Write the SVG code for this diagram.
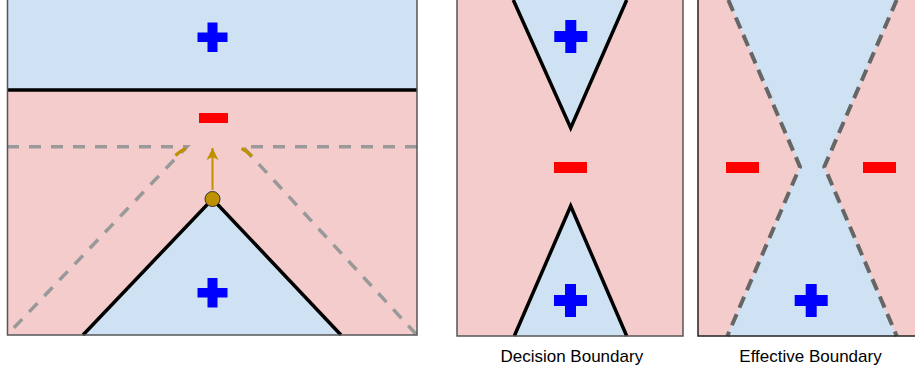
<svg xmlns="http://www.w3.org/2000/svg" width="915" height="372" viewBox="0 0 915 372">
<defs>
<style>
.blue{fill:#cfe2f3}
.pink{fill:#f4cccc}
.plus{fill:#0000ff}
.minus{fill:#ff0000}
.bnd{fill:none;stroke:#000;stroke-width:3.5;stroke-linejoin:miter}
.dash1{fill:none;stroke:#999;stroke-width:3.5;stroke-dasharray:12 10}
.dash3{fill:none;stroke:#666;stroke-width:4;stroke-dasharray:12 7}
.frame{fill:none;stroke:#555;stroke-width:1.5}
.lbl{font-family:"Liberation Sans",Arial,sans-serif;font-size:17px;fill:#000;text-anchor:middle}
</style>
<marker id="ah" viewBox="0 0 12 16" refX="12" refY="8" markerWidth="12" markerHeight="16" markerUnits="userSpaceOnUse" orient="auto">
<path d="M0,2 L12,8 L0,14 L3,8 Z" fill="#bf9000"/>
</marker>
</defs>

<g id="panel1">
<rect class="blue" x="7" y="0" width="410" height="90"/>
<rect class="pink" x="7" y="90" width="410" height="245"/>
<polygon class="blue" points="212.5,199 83,335 341,335"/>
<line x1="7" y1="90" x2="417" y2="90" stroke="#000" stroke-width="3.5"/>
<polyline class="bnd" points="83,335 212.5,199 341,335"/>
<polyline class="dash1" points="7,146.7 186.7,146.7 8,334"/>
<polyline class="dash1" points="417,146.7 242.7,146.7 416,334"/>
<path d="M175.5,155.5 Q180,151 186,148.5" fill="none" stroke="#bf9000" stroke-width="3.5"/>
<path d="M241.5,148.5 Q247,151 251.5,156" fill="none" stroke="#bf9000" stroke-width="3.5"/>
<line x1="212.5" y1="190" x2="212.5" y2="148" stroke="#bf9000" stroke-width="2" marker-end="url(#ah)"/>
<circle cx="212.5" cy="199" r="7.5" fill="#bf9000" stroke="#333" stroke-width="1"/>
<path class="plus" d="M207.5,22.5h10v10h10v9.5h-10v10h-10v-10h-10v-9.5h10z"/>
<rect class="minus" x="199" y="113" width="29" height="10"/>
<path class="plus" d="M207.5,278h10v10h10v9.5h-10v10h-10v-10h-10v-9.5h10z"/>
<polyline class="frame" points="7.5,0 7.5,335 417,335 417,0"/>
</g>

<g id="panel2">
<rect class="pink" x="457" y="0" width="226" height="336"/>
<polygon class="blue" points="513.3,0 626.7,0 570.7,128"/>
<polygon class="blue" points="514.3,336 626.7,336 570.7,206"/>
<polyline class="bnd" points="513.3,0 570.7,128 626.7,0"/>
<polyline class="bnd" points="514.3,336 570.7,206 626.7,336"/>
<path class="plus" d="M565.3,20h11v11h11v11h-11v11h-11v-11h-11v-11h11z"/>
<rect class="minus" x="554" y="162" width="33" height="11"/>
<path class="plus" d="M565,284h11v11h11v11h-11v11h-11v-11h-11v-11h11z"/>
<polyline class="frame" points="457,0 457,336 683,336 683,0"/>
<text class="lbl" x="571.8" y="362">Decision Boundary</text>
</g>

<g id="panel3">
<rect class="pink" x="698" y="0" width="217" height="336"/>
<polygon class="blue" points="728.3,0 896.7,0 824.3,166.7 896.7,336 727.3,336 800,166.7"/>
<polyline class="dash3" points="728.3,0 800,166.7 727.3,336"/>
<polyline class="dash3" points="896.7,0 824.3,166.7 896.7,336"/>
<rect class="minus" x="726" y="162" width="33" height="11"/>
<rect class="minus" x="863" y="162" width="33" height="11"/>
<path class="plus" d="M805.7,284h11v11h11v11h-11v11h-11v-11h-11v-11h11z"/>
<polyline points="698,0 698,336 915,336" fill="none" stroke="#222" stroke-width="1.5"/>
<text class="lbl" x="810.5" y="362">Effective Boundary</text>
</g>
</svg>
